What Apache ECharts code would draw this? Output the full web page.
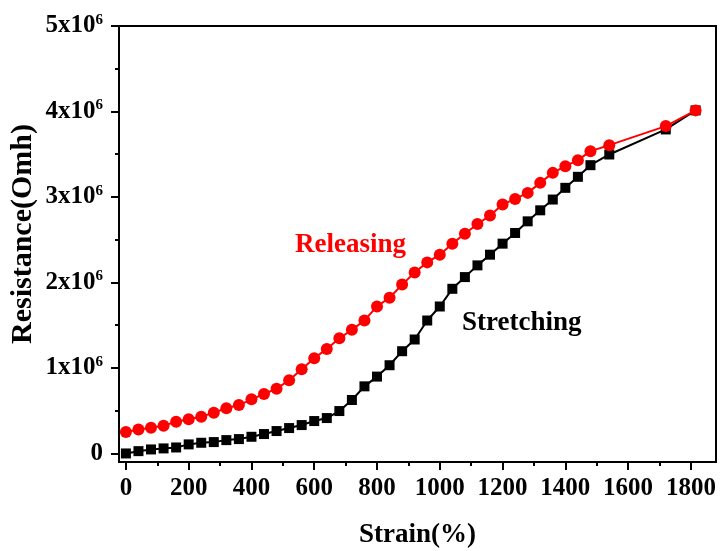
<!DOCTYPE html>
<html><head><meta charset="utf-8">
<script src="https://cdn.jsdelivr.net/npm/echarts@6/dist/echarts.min.js"></script>
<style>html,body{margin:0;padding:0;background:#fff}#c{width:720px;height:551px}</style>
</head><body><div id="c"></div>
<script>
// Strain (%) sample positions
const strain = [0,40,80,120,160,200,240,280,320,360,400,440,480,520,560,600,640,680,720,760,800,840,880,920,960,1000,1040,1080,1120,1160,1200,1240,1280,1320,1360,1400,1440,1480,1540,1720,1815];
// Resistance in units of 10^6 Ohm
const stretching = [0,0.027,0.047,0.059,0.07,0.106,0.125,0.133,0.156,0.168,0.195,0.227,0.262,0.297,0.332,0.379,0.414,0.496,0.625,0.785,0.899,1.032,1.196,1.333,1.555,1.719,1.926,2.063,2.2,2.325,2.454,2.579,2.715,2.844,2.97,3.107,3.236,3.372,3.497,3.79,4.013];
const releasing = [0.25,0.281,0.301,0.325,0.371,0.399,0.43,0.477,0.528,0.566,0.633,0.695,0.758,0.856,0.985,1.114,1.223,1.348,1.446,1.556,1.72,1.821,1.975,2.117,2.235,2.325,2.454,2.569,2.684,2.782,2.911,2.977,3.048,3.165,3.282,3.36,3.431,3.536,3.606,3.829,4.013];
const xTicks = [0,200,400,600,800,1000,1200,1400,1600,1800];
const xMinorTicks = [100,300,500,700,900,1100,1300,1500,1700];
const yTicks = [0,1,2,3,4,5];
const yMinorTicks = [0.5,1.5,2.5,3.5,4.5];

const FONT = '"Liberation Serif","Times New Roman",serif';
const chart = echarts.init(document.getElementById('c'), null, {renderer:'canvas'});
const pair = a => strain.map((x,i)=>[x,a[i]]);
const axLine = {color:'#000', width:2};
chart.setOption({
  animation:false,
  backgroundColor:'#fff',
  grid:{left:119, right:4, top:26, bottom:89, containLabel:false, outerBoundsMode:'none',
        show:true, borderColor:'#000', borderWidth:2, backgroundColor:'transparent'},
  xAxis:[
    {type:'value', min:-22, max:1880, position:'bottom', offset:0,
     name:'Strain(%)', nameLocation:'middle', nameGap:60, nameMoveOverlap:false,
     nameTextStyle:{fontFamily:FONT, fontWeight:'bold', fontSize:27, color:'#000'},
     axisLine:{onZero:false, lineStyle:axLine},
     axisTick:{customValues:xTicks, length:8, lineStyle:axLine},
     axisLabel:{customValues:xTicks, formatter: v => String(v), fontFamily:FONT, fontWeight:'bold', fontSize:25, color:'#000', margin:14},
     splitLine:{show:false}},
    {type:'value', min:-22, max:1880, position:'bottom', offset:0,
     axisLine:{show:false, onZero:false},
     axisTick:{customValues:xMinorTicks, length:4, lineStyle:axLine},
     axisLabel:{show:false}, splitLine:{show:false}}
  ],
  yAxis:[
    {type:'value', min:-0.1, max:5, position:'left', offset:0,
     name:'Resistance(Omh)', nameLocation:'middle', nameGap:81, nameRotate:90, nameMoveOverlap:false,
     nameTextStyle:{fontFamily:FONT, fontWeight:'bold', fontSize:30, color:'#000', padding:[0,0,0,20]},
     axisLine:{onZero:false, lineStyle:axLine},
     axisTick:{customValues:yTicks, length:8, lineStyle:axLine},
     axisLabel:{customValues:yTicks, margin:16, color:'#000',
       formatter: v => v===0 ? '{b|0}' : '{b|'+v+'x10}{s|6}',
       rich:{
         b:{fontFamily:FONT, fontWeight:'bold', fontSize:25, color:'#000', lineHeight:27},
         s:{fontFamily:FONT, fontWeight:'bold', fontSize:15, color:'#000', verticalAlign:'top', lineHeight:27, padding:[0,0,10,0]}
       }},
     splitLine:{show:false}},
    {type:'value', min:-0.1, max:5, position:'left', offset:0,
     axisLine:{show:false, onZero:false},
     axisTick:{customValues:yMinorTicks, length:4, lineStyle:axLine},
     axisLabel:{show:false}, splitLine:{show:false}}
  ],
  series:[
    {name:'Stretching', type:'line', data:pair(stretching), symbol:'rect', symbolSize:10,
     itemStyle:{color:'#000'}, lineStyle:{color:'#000', width:2}, z:2},
    {name:'Releasing', type:'line', data:pair(releasing), symbol:'circle', symbolSize:12,
     itemStyle:{color:'#ff0000'}, lineStyle:{color:'#ff0000', width:2}, z:3}
  ],
  graphic:[
    {type:'text', left:295, top:232, style:{text:'Releasing', fontFamily:FONT, fontWeight:'bold', fontSize:27, fill:'#ff0000'}},
    {type:'text', left:462, top:310, style:{text:'Stretching', fontFamily:FONT, fontWeight:'bold', fontSize:27, fill:'#000'}}
  ]
});
</script></body></html>
